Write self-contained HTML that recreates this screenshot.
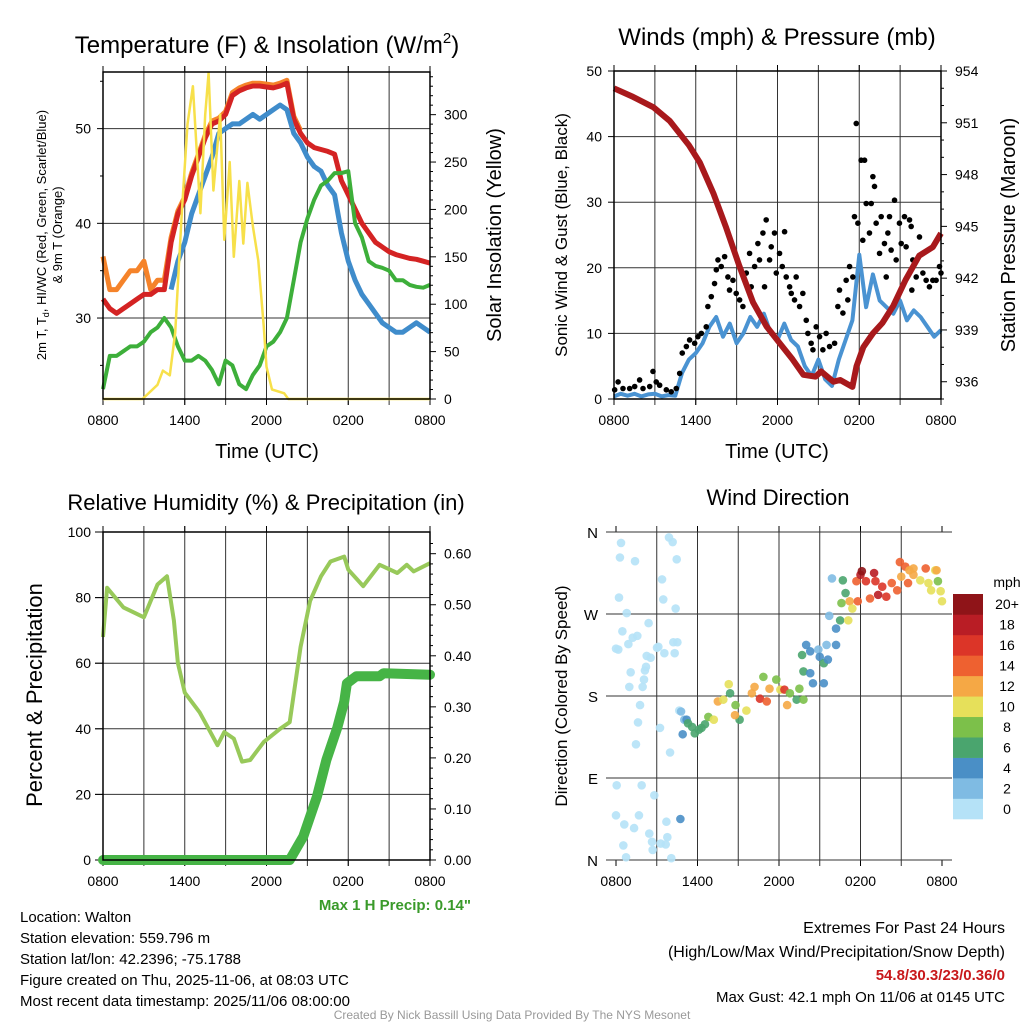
<!DOCTYPE html>
<html><head><meta charset="utf-8"><style>
body{margin:0;background:#fff}
svg{display:block;font-family:"Liberation Sans",sans-serif}
</style></head><body>
<svg id="c" width="1024" height="1024" viewBox="0 0 1024 1024"></svg>
<script>
// ---------- data ----------
const hourTicks = ["0800","1400","2000","0200","0800"];
// Panel 1 (temperature, F), half-hour steps t=0..24
const tempRed = [32,31,30.5,31,31.5,32,32.5,32.5,33,33,38,41,42.5,45,47,49,50.5,50.8,51.5,53.5,54,54.3,54.5,54.5,54.4,54.3,54.5,54.8,51,49.5,48.5,48,47.8,47.6,47.3,44.5,43,41.5,40,39,38,37.5,37,36.7,36.5,36.3,36.2,36,35.8];
const temp9m = [36.5,33,33,34,35,35,36,33,34,34,38.5,41.3,42.8,45.3,47.3,49.3,50.8,51.1,51.8,53.8,54.3,54.6,54.8,54.8,54.7,54.6,54.8,55.1,51.3,49.8];
const tempBlue = [null,null,null,null,null,null,null,null,null,null,33,36,38,41,43,45,47,49.5,50,50.5,50.5,51,51.5,51,51.5,52,52.5,52,49.5,48.5,47,46,45.5,44,43,39,36,34,32.5,31.5,30.5,29.5,29,28.5,28.5,29,29.5,29,28.5];
const dewGreen = [22.5,26,26,26.5,27,27,27.5,28.5,29,30,29,27,25.5,25.5,26,25.5,24.5,23,25.5,25,23,22.5,24,25,27,27.5,28.5,30,34,38,40.5,42.5,44,44.5,45.3,45.3,45.5,40,38.5,36,35.5,35.3,35,34,34,33.5,33.3,33.2,33.5];
const solarT = [0,2.9,4.0,4.4,4.9,5.3,5.8,6.2,6.6,7.15,7.5,7.75,8.1,8.6,8.9,9.3,9.6,10.0,10.3,10.6,11,11.4,11.8,12.0,12.4,13.3,13.6,24];
const solarV = [0,0,15,30,25,70,200,290,330,196,300,344,220,300,168,250,150,230,164,228,182,146,76,34,10,6,0,0];
// Panel 2
const pressT = [0,1.4,2.9,4.1,5.5,6.3,7.3,8.2,9.2,10.2,11.2,12.2,13.1,13.9,14.8,15.2,16.1,16.6,17.5,17.8,18.3,19.0,19.7,20.5,21.4,22.4,23.4,24];
const pressure = [953.0,952.5,951.9,951.1,949.7,948.7,946.9,945.0,942.7,940.6,939.2,938.2,937.3,936.4,936.3,936.6,936.0,936.1,935.7,936.9,938.0,938.8,939.4,940.4,941.9,943.3,943.8,944.6];
const windBlue = [0.4,0.8,0.5,0.8,0.4,0.7,0.8,0.4,0.6,0.5,4,6,7,8.5,11,12.5,9.5,11.5,8.5,10,12.5,11,13,10,9,11.5,9,8,5,3.5,6,3,2,6,9,12,22,14,19,15,14,13,15,12,13.5,12.5,11,9.5,10.5];
const gustT = [0.05,0.3,0.66,1.15,1.52,1.88,2.13,2.62,2.86,3.1,3.35,3.84,4.2,4.57,4.82,5.01,5.31,5.55,5.92,6.16,6.41,6.77,6.89,7.14,7.38,7.51,7.63,7.87,8.12,8.36,8.48,8.73,8.97,9.22,9.46,9.71,9.95,10.07,10.32,10.56,10.68,10.93,11.05,11.17,11.42,11.54,11.78,11.91,12.15,12.35,12.52,12.64,12.89,13.01,13.25,13.37,13.62,13.86,14.11,14.23,14.47,14.6,14.84,15.09,15.33,15.57,15.82,16.19,16.43,16.55,16.8,17.04,17.16,17.29,17.53,17.65,17.78,17.9,18.14,18.26,18.39,18.51,18.75,18.88,19.0,19.12,19.24,19.49,19.61,19.85,19.98,20.1,20.22,20.34,20.59,20.71,20.95,21.08,21.32,21.44,21.69,21.81,21.93,22.18,22.42,22.67,22.91,23.15,23.4,23.64,23.89,24,21.86];
const gustV = [1.4,2.6,1.6,1.6,1.9,2.9,1.6,1.9,4.2,2.6,2.1,1.4,1.1,1.6,3.9,7.0,8.0,9.0,8.5,9.5,10.0,11.0,14.1,15.6,17.6,19.7,21.2,20.2,21.7,18.6,16.6,18.1,16.1,15.1,14.1,19.2,22.2,17.1,20.2,23.7,21.2,25.3,17.1,27.3,21.2,23.2,25.3,19.2,22.2,20.2,25.5,18.6,17.1,16.1,15.1,18.6,14.1,16.1,12.0,10.0,8.5,7.5,11.0,9.5,7.5,10.0,8.0,8.5,14.1,16.6,13.1,18.1,15.1,20.2,18.6,27.8,42.0,26.8,36.4,24.2,36.4,29.8,25.3,29.8,33.9,32.4,26.8,22.2,27.8,23.7,18.6,25.3,27.8,22.7,30.3,21.2,26.8,23.7,27.8,23.2,27.3,26.3,21.2,18.6,24.7,19.2,18.1,17.1,18.1,18.1,20.2,19.2,16.6];
// Panel 3
const rhT = [0,0.3,1.5,3,4,4.7,5.2,5.5,6,7.1,8.4,8.9,9.6,10.2,10.8,11.8,13,13.7,14.5,15.2,16,16.7,17.7,18,19.1,20.3,21.6,22.3,22.8,24];
const rhV = [68,83,77,74,84,86.5,73,60,51,45,35,39,37,30,30.5,36,40,42,65,79,86.5,91,92.5,88.5,83.5,90,87.5,90,88,90.5];
const precipT = [0,13.7,14.7,15.7,16.4,17.2,17.7,17.9,18.6,20.3,20.6,24];
const precipV = [0,0,0.046,0.124,0.196,0.26,0.31,0.346,0.36,0.36,0.366,0.363];
// Panel 4 (time h, direction deg, speed mph)
const dirT = [0.37,0.29,1.40,0.22,0.79,0.47,1.23,1.57,0.91,0,0.17,2.40,3.02,3.12,2.26,2.55,2.21,2.13,1.08,2.06,0.98,1.96,1.77,1.62,1.47,0.05,1.89,2.82,0,1.69,0.61,1.33,2.45,2.65,0.54,2.70,0.74,3.90,4.17,4.47,3.39,3.48,4.39,4.22,4.52,3.56,4.32,4.66,3.24,3.98,3.71,3.78,3.29,3.66,4.07,
4.79,5.03,4.91,4.74,5.2,5.3,5.6,5.8,6.1,6.3,6.55,6.8,7.2,7.5,7.9,8.3,8.4,8.8,9.1,8.76,9.6,10.0,10.2,10.6,10.85,11.1,11.3,11.8,12.1,12.4,12.6,12.8,13.3,13.5,13.8,13.7,14.0,13.8,14.3,14.3,14.5,14.9,15.0,15.3,15.5,15.6,15.3,16.2,15.7,15.9,16.2,16.5,16.6,16.7,16.9,17.2,17.1,17.4,17.7,17.8,18.0,18.1,18.4,18.7,19.0,19.1,19.3,19.6,19.9,20.3,20.7,20.9,21.0,21.3,21.5,21.9,21.9,22.4,22.8,23.0,23.2,23.5,23.7,23.9,24.0,23.6,21.6];
const dirV = [348,332,328,288,271,251,244,246,237,232,231,260,233,234,224,222,212,208,206,198,190,190,170,151,127,82,82,71,49,49,39,35,29,20,16,11,3,354,349,330,308,286,276,239,239,227,227,164,145,118,42,25,18,17,2,
163,154,138,45,154,150,146,139,143,145,149,157,154,174,176,193,183,170,154,159,164,183,190,177,201,174,188,198,187,187,170,183,176,188,176,225,236,207,229,205,194,231,223,216,236,220,194,236,268,309,254,263,282,307,293,284,263,276,306,284,313,317,306,287,315,306,291,300,289,304,296,327,311,322,304,313,320,307,320,304,296,318,306,295,284,318,318];
const dirS = [0.5,0.5,0.5,0.5,0.5,0.5,0.5,0.5,0.5,0.5,0.5,0.5,0.5,0.5,0.5,0.5,0.5,0.5,0.5,0.5,0.5,0.5,0.5,0.5,0.5,0.5,0.5,0.5,0.5,0.5,0.5,0.5,0.5,0.5,0.5,0.5,0.5,0.5,0.5,0.5,0.5,0.5,0.5,0.5,0.5,0.5,0.5,0.5,0.5,0.5,0.5,0.5,0.5,0.5,0.5,
3,3,5,5,5,6,7,6,7,6,7,8,11,12,11,10,7,8,7,13,10,12,13,16,8,15,12,9,11,16,13,9,7,9,8,6,5,7,5,4,4,3,5,6,3,4,4,4,3,3,4,7,8,6,7,12,10,10,14,15,19,21,16,15,19,16,18,17,16,14,15,15,13,14,15,12,12,11,14,10,11,10,9,10,11,12,12];
const cbLabels = ["0","2","4","6","8","10","12","14","16","18","20+"];
const cbColors = ["#b5e2f7","#7fbbe3","#4a8fc6","#4aa56e","#7cc04a","#e6e05a","#f5a845","#ee6130","#dc3528","#b91d25","#8f1418"];

// ---------- helpers ----------
const NS="http://www.w3.org/2000/svg", svg=document.getElementById('c');
function el(tag, attrs, parent){const e=document.createElementNS(NS,tag);for(const k in attrs)e.setAttribute(k,attrs[k]);(parent||svg).appendChild(e);return e;}
function txt(s,x,y,size,opt){opt=opt||{};const e=el('text',{x:x,y:y,'font-size':size,'text-anchor':opt.anchor||'middle',fill:opt.fill||'#000','font-weight':opt.bold?'bold':'normal'});if(opt.rot!==undefined)e.setAttribute('transform','rotate('+opt.rot+' '+x+' '+y+')');e.textContent=s;return e;}
function scale(d0,d1,r0,r1){return v=>r0+(v-d0)/(d1-d0)*(r1-r0);}
function line(x1,y1,x2,y2,st,w){return el('line',{x1:x1,y1:y1,x2:x2,y2:y2,stroke:st||'#000','stroke-width':w||1});}
function pathFrom(ts,vs,xs,ys){let d='',pen=false;for(let i=0;i<vs.length;i++){if(vs[i]===null){pen=false;continue;}d+=(pen?'L':'M')+xs(ts[i]).toFixed(1)+' '+ys(vs[i]).toFixed(1);pen=true;}return d;}
const halfT = i=>i*0.5;
function frame(P,name){
  const r=el('rect',{x:P.x0,y:P.y0,width:P.x1-P.x0,height:P.y1-P.y0,fill:'none',stroke:'#000','stroke-width':1.5});
  
  
}
function xAxis(P,xs,name){
  for(let h=3;h<24;h+=3){const g=line(xs(h),P.y0-6,xs(h),P.y1+6,'#333',1);}
  hourTicks.forEach((s,i)=>{const x=xs(i*6);line(x,P.y1,x,P.y1+6);line(x,P.y0,x,P.y0-6);
    const t=txt(s,x,P.y1+26,14);});
}

// ---------- Panel 1 ----------
const P1={x0:103,x1:430,y0:72,y1:399};
const x1s=scale(0,24,P1.x0,P1.x1), y1L=scale(21.45,55.98,P1.y1,P1.y0), y1R=scale(0,345,P1.y1,P1.y0);
xAxis(P1,x1s,'temp');
[30,40,50].forEach(v=>{const g=line(P1.x0,y1L(v),P1.x1,y1L(v),'#333',1);line(P1.x0-6,y1L(v),P1.x0,y1L(v));const t=txt(String(v),P1.x0-12,y1L(v)+5,14,{anchor:'end'});});
[25,35,45,55].forEach(v=>line(P1.x0-3,y1L(v),P1.x0,y1L(v)));
for(let v=0;v<=340;v+=10){line(P1.x1,y1R(v),P1.x1+(v%50===0?6:3),y1R(v));}
[0,50,100,150,200,250,300].forEach(v=>{const t=txt(String(v),P1.x1+14,y1R(v)+5,14,{anchor:'start'});});
let p;
p=el('path',{d:pathFrom(temp9m.map((v,i)=>halfT(i)),temp9m,x1s,y1L),fill:'none',stroke:'#f5832a','stroke-width':5,'stroke-linejoin':'round'});


p=el('path',{d:pathFrom(tempRed.map((v,i)=>halfT(i)),tempRed,x1s,y1L),fill:'none',stroke:'#d42323','stroke-width':5,'stroke-linejoin':'round'});


p=el('path',{d:pathFrom(tempBlue.map((v,i)=>halfT(i)),tempBlue,x1s,y1L),fill:'none',stroke:'#3f8ccb','stroke-width':5,'stroke-linejoin':'round'});


p=el('path',{d:pathFrom(dewGreen.map((v,i)=>halfT(i)),dewGreen,x1s,y1L),fill:'none',stroke:'#3daf3a','stroke-width':4,'stroke-linejoin':'round'});


p=el('path',{d:pathFrom(solarT,solarV,x1s,y1R),fill:'none',stroke:'#f7e04a','stroke-width':2.5,'stroke-linejoin':'round'});


frame(P1,'temp');
let t=txt('',267,53,24);
t.innerHTML='Temperature (F) &amp; Insolation (W/m<tspan font-size="15" dy="-10">2</tspan><tspan dy="10">)</tspan>';
t=txt('Time (UTC)',267,458,20);
t=txt('',46,235,13,{rot:-90});
t.innerHTML='2m T, T<tspan font-size="9" dy="3">d</tspan><tspan dy="-3">, HI/WC (Red, Green, Scarlet/Blue)</tspan>';
t=txt('& 9m T (Orange)',62,235,13,{rot:-90});
t=txt('Solar Insolation (Yellow)',501,235,20,{rot:-90});

// ---------- Panel 2 ----------
const P2={x0:614,x1:941,y0:71,y1:399};
const x2s=scale(0,24,P2.x0,P2.x1), y2L=scale(0,50,P2.y1,P2.y0), y2R=scale(935,954,P2.y1,P2.y0);
xAxis(P2,x2s,'wind');
[0,10,20,30,40,50].forEach(v=>{if(v>0&&v<50){const g=line(P2.x0,y2L(v),P2.x1,y2L(v),'#333',1);}line(P2.x0-6,y2L(v),P2.x0,y2L(v));const t=txt(String(v),P2.x0-12,y2L(v)+5,14,{anchor:'end'});});
for(let v=935;v<=954;v++){line(P2.x1,y2R(v),P2.x1+((v%3===0)?6:3),y2R(v));}
[936,939,942,945,948,951,954].forEach(v=>{const t=txt(String(v),P2.x1+14,y2R(v)+5,14,{anchor:'start'});});
p=el('path',{d:pathFrom(windBlue.map((v,i)=>halfT(i)),windBlue,x2s,y2L),fill:'none',stroke:'#4a93d2','stroke-width':4,'stroke-linejoin':'round'});


gustT.forEach((tt,i)=>{const c=el('circle',{cx:x2s(tt),cy:y2L(gustV[i]),r:2.8,fill:'#000'});

});
p=el('path',{d:pathFrom(pressT,pressure,x2s,y2R),fill:'none',stroke:'#a8191c','stroke-width':6,'stroke-linejoin':'round'});


frame(P2,'wind');
t=txt('Winds (mph) & Pressure (mb)',777,45,24);
t=txt('Time (UTC)',777,458,20);
t=txt('Sonic Wind & Gust (Blue, Black)',567,235,17,{rot:-90});
t=txt('Station Pressure (Maroon)',1015,235,20,{rot:-90});

// ---------- Panel 3 ----------
const P3={x0:103,x1:430,y0:532,y1:860};
const x3s=scale(0,24,P3.x0,P3.x1), y3L=scale(0,100,P3.y1,P3.y0), y3R=scale(0,0.6425,P3.y1,P3.y0);
xAxis(P3,x3s,'rh');
[0,20,40,60,80,100].forEach(v=>{if(v>0&&v<100){const g=line(P3.x0-8,y3L(v),P3.x1,y3L(v),'#333',1);}line(P3.x0-8,y3L(v),P3.x0,y3L(v));const t=txt(String(v),P3.x0-12,y3L(v)+5,14,{anchor:'end'});});
for(let v=0;v<=0.64;v+=0.02){line(P3.x1,y3R(v),P3.x1+(Math.round(v*100)%10===0?6:3),y3R(v));}
["0.00","0.10","0.20","0.30","0.40","0.50","0.60"].forEach(s=>{const t=txt(s,P3.x1+14,y3R(parseFloat(s))+5,14,{anchor:'start'});});
p=el('path',{d:pathFrom(rhT,rhV,x3s,y3L),fill:'none',stroke:'#98c95a','stroke-width':4,'stroke-linejoin':'round'});


p=el('path',{d:pathFrom(precipT,precipV,x3s,y3R),fill:'none',stroke:'#46b446','stroke-width':10,'stroke-linejoin':'round','stroke-linecap':'round'});


frame(P3,'rh');
t=txt('Relative Humidity (%) & Precipitation (in)',266,510,22);
t=txt('Percent & Precipitation',42,695,22,{rot:-90});
t=txt('Max 1 H Precip: 0.14"',471,910,15,{anchor:'end',fill:'#3a9a2a',bold:true});

// ---------- Panel 4 ----------
const P4={x0:616,x1:942,y0:532,y1:860};
const x4s=scale(0,24,P4.x0,P4.x1), y4s=scale(0,360,P4.y1,P4.y0);
xAxis(P4,x4s,'dir');
["N","E","S","W","N"].forEach((s,i)=>{const v=i*90;const g=line(P4.x0-10,y4s(v),P4.x1+10,y4s(v),'#333',1);
  const t=txt(s,598,y4s(v)+6,15,{anchor:'end'});});
function colorFor(s){let b=Math.floor(s/2);if(b>10)b=10;return cbColors[b];}
dirT.forEach((tt,i)=>{const c=el('circle',{cx:x4s(tt),cy:y4s(dirV[i]),r:4.3,fill:colorFor(dirS[i]),'fill-opacity':0.9});

});
t=txt('Wind Direction',778,505,22);
t=txt('Direction (Colored By Speed)',567,696,17,{rot:-90});
const cbH=225/11;
cbColors.forEach((c,i)=>{const r=el('rect',{x:953,y:819-(i+1)*cbH,width:30,height:cbH+0.3,fill:c});


const t=txt(cbLabels[i],1007,819-(i+0.5)*cbH+5,14);});
t=txt('mph',1007,587,14);

// ---------- footer ----------
["Location: Walton","Station elevation: 559.796 m","Station lat/lon: 42.2396; -75.1788","Figure created on Thu, 2025-11-06, at 08:03 UTC","Most recent data timestamp: 2025/11/06 08:00:00"].forEach((s,i)=>{const t=txt(s,20,922+i*21,15,{anchor:'start'});});
t=txt('Extremes For Past 24 Hours',1005,933,16,{anchor:'end'});
t=txt('(High/Low/Max Wind/Precipitation/Snow Depth)',1005,957,16,{anchor:'end'});
t=txt('54.8/30.3/23/0.36/0',1005,980,15,{anchor:'end',fill:'#c8191c',bold:true});
t=txt('Max Gust: 42.1 mph On 11/06 at 0145 UTC',1005,1002,15,{anchor:'end'});
t=txt('Created By Nick Bassill Using Data Provided By The NYS Mesonet',512,1019,12,{fill:'#999'});
</script>
</body></html>
